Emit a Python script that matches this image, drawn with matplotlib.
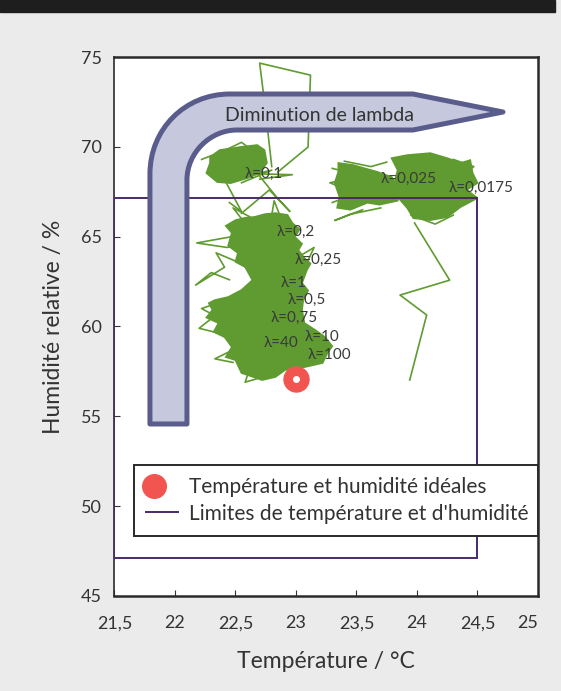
import matplotlib
matplotlib.use("Agg")
import matplotlib.pyplot as plt
from matplotlib.path import Path
from matplotlib.patches import PathPatch, Rectangle, Polygon
from matplotlib.transforms import Affine2D
from matplotlib.lines import Line2D
from matplotlib.legend_handler import HandlerTuple

plt.rcParams['font.family'] = ['Lato', 'DejaVu Sans']

# ---------------- data ----------------
x_ticks = [21.5, 22, 22.5, 23, 23.5, 24, 24.5, 25]
x_tick_labels = ['21,5', '22', '22,5', '23', '23,5', '24', '24,5', '25']
y_ticks = [45, 50, 55, 60, 65, 70, 75]
y_tick_labels = ['45', '50', '55', '60', '65', '70', '75']

ideal_temp = 23.0
ideal_hum = 57.1

limit_temp = [21.5, 24.5]
limit_hum = [47.1, 67.15]

# dense clouds of the trajectories (outline of the green scribble)
cloud_main = [(22.50, 65.92), (22.58, 66.05), (22.66, 66.10), (22.74, 66.25), (22.83, 66.31),
              (22.93, 66.21), (22.97, 65.76), (23.03, 65.40), (22.99, 64.99), (23.05, 64.60),
              (23.02, 64.25), (23.07, 63.81), (23.12, 63.50), (23.09, 63.14), (23.05, 62.42),
              (23.10, 62.00), (23.06, 61.47), (23.05, 60.92), (23.07, 60.19), (23.16, 59.80),
              (23.24, 59.41), (23.30, 58.90), (23.26, 58.52), (23.22, 57.97), (23.07, 57.74),
              (22.91, 57.58), (22.83, 57.19), (22.72, 57.02), (22.60, 57.30), (22.55, 57.41),
              (22.50, 58.13), (22.42, 58.30), (22.47, 58.86), (22.41, 59.41), (22.32, 59.70),
              (22.36, 60.19), (22.26, 60.50), (22.31, 60.92), (22.28, 61.30), (22.33, 61.47),
              (22.44, 61.64), (22.55, 62.03), (22.64, 62.58), (22.58, 63.31), (22.50, 63.60),
              (22.52, 64.09), (22.44, 64.50), (22.47, 65.21), (22.42, 65.60)]
cloud_01 = [(22.29, 69.43), (22.37, 69.82), (22.54, 69.99), (22.68, 70.10), (22.74, 69.82),
            (22.76, 69.10), (22.70, 68.54), (22.60, 68.26), (22.46, 67.98), (22.35, 68.04),
            (22.26, 68.54), (22.29, 69.10)]
cloud_0025 = [(23.35, 69.10), (23.47, 68.99), (23.67, 68.61), (23.79, 68.32), (23.86, 67.60),
              (23.84, 67.00), (23.69, 66.78), (23.59, 66.89), (23.45, 66.50), (23.34, 66.61),
              (23.36, 67.21), (23.32, 67.99), (23.35, 68.61)]
cloud_00175 = [(23.79, 69.37), (23.92, 69.54), (24.11, 69.65), (24.25, 69.37), (24.36, 69.10),
               (24.44, 69.26), (24.46, 68.54), (24.50, 67.99), (24.41, 67.60), (24.50, 67.15),
               (24.36, 66.65), (24.25, 66.09), (24.11, 65.92), (23.97, 66.03), (23.92, 66.59),
               (23.84, 67.21), (23.82, 68.15), (23.84, 68.71)]

# sparse excursions of the trajectories
excursions = [
    [(22.80, 68.90), (22.74, 72.50), (22.70, 74.66), (23.12, 73.99), (23.10, 69.99), (22.85, 68.60)],
    [(22.60, 69.20), (22.84, 67.20), (22.95, 66.40), (22.78, 67.60), (22.55, 66.30)],
    [(22.40, 68.30), (22.55, 66.40), (22.45, 66.90)],
    [(22.47, 65.00), (22.18, 64.65), (22.43, 64.40), (22.60, 64.60)],
    [(22.55, 63.50), (22.34, 64.10), (22.41, 63.30), (22.17, 62.30), (22.30, 63.00), (22.45, 62.60)],
    [(23.98, 65.76), (24.27, 62.58), (23.86, 61.75), (24.08, 60.64), (23.94, 57.02)],
    [(23.55, 66.50), (23.32, 65.90), (23.45, 66.25), (23.70, 66.60)],
    [(22.22, 69.30), (22.45, 69.90), (22.30, 68.60), (22.62, 69.60), (22.40, 68.10),
     (22.80, 68.70), (22.55, 68.00)],
    [(22.65, 68.50), (22.97, 68.45), (22.70, 68.20)],
    [(22.35, 69.60), (22.55, 70.25), (22.62, 69.90)],
    [(23.30, 68.80), (23.55, 68.40), (23.28, 68.00), (23.50, 67.40), (23.30, 66.90)],
    [(23.40, 69.20), (23.62, 68.90), (23.75, 69.15)],
    [(24.30, 69.30), (24.47, 68.90), (24.35, 68.30)],
    [(23.95, 66.20), (24.15, 65.70), (24.30, 66.20)],
    [(22.35, 61.30), (22.22, 61.00), (22.33, 60.60), (22.20, 59.90), (22.38, 59.60)],
    [(22.45, 58.60), (22.33, 58.20), (22.48, 58.00)],
    [(22.60, 57.30), (22.58, 56.90), (22.68, 57.10)],
    [(22.55, 66.00), (22.48, 66.60), (22.62, 66.10)],
    [(22.80, 66.20), (22.82, 67.00), (22.86, 66.30)],
    [(23.05, 64.00), (23.15, 64.40), (23.08, 63.40)],
]

lambda_labels = ['λ=0,1', 'λ=0,025', 'λ=0,0175', 'λ=0,2', 'λ=0,25', 'λ=1', 'λ=0,5',
                 'λ=0,75', 'λ=40', 'λ=10', 'λ=100']
lambda_x = [22.58, 23.70, 24.26, 22.84, 22.99, 22.87, 22.93, 22.79, 22.73, 23.07, 23.10]
lambda_y = [68.50, 68.20, 67.70, 65.26, 63.70, 62.40, 61.50, 60.50, 59.10, 59.40, 58.40]

# ---------------- figure ----------------
GREEN = '#5f9b30'
fig = plt.figure(figsize=(5.61, 6.91), dpi=100, facecolor='#ebebeb')
fig.patches.append(Rectangle((0, 0.983), 0.99, 0.017, transform=fig.transFigure,
                             color='#1e1e1e', zorder=0))
ax = fig.add_axes([0.204, 0.1375, 0.755, 0.78])
ax.set_facecolor('white')
ax.set_xlim(21.5, 25)
ax.set_ylim(45, 75)

for cloud in (cloud_main, cloud_01, cloud_0025, cloud_00175):
    ax.add_patch(Polygon(cloud, closed=True, facecolor=GREEN, edgecolor=GREEN,
                         lw=1.2, joinstyle='miter', zorder=2))
for seg in excursions:
    xs, ys = zip(*seg)
    ax.plot(xs, ys, color=GREEN, lw=1.2, zorder=2)

ax.add_patch(Rectangle((limit_temp[0], limit_hum[0]), limit_temp[1] - limit_temp[0],
                       limit_hum[1] - limit_hum[0], fill=False, edgecolor='#4a2a6a',
                       lw=1.4, zorder=3))

# bent arrow "Diminution de lambda" (drawn in page pixel units, mapped to axes)
px2ax = Affine2D().scale(1 / 423.5, -1 / 539).translate(-114.5 / 423.5, 596 / 539) + ax.transAxes
verts = [(150, 424), (150, 174), (150, 129), (185, 94), (230, 94), (413, 94), (503, 112),
         (413, 130), (237, 130), (210, 130), (187, 153), (187, 180), (187, 424), (150, 424)]
codes = [Path.MOVETO, Path.LINETO, Path.CURVE4, Path.CURVE4, Path.CURVE4, Path.LINETO,
         Path.LINETO, Path.LINETO, Path.LINETO, Path.CURVE4, Path.CURVE4, Path.CURVE4,
         Path.LINETO, Path.CLOSEPOLY]
ax.add_patch(PathPatch(Path(verts, codes), transform=px2ax, facecolor='#c6c9dd',
                       edgecolor='#5a5c8c', lw=3.6, joinstyle='round', zorder=4))
ax.text(320, 115, 'Diminution de lambda', transform=px2ax, ha='center', va='center',
        fontsize=14, color='#333333', zorder=5)

for lab, lx, ly in zip(lambda_labels, lambda_x, lambda_y):
    ax.text(lx, ly, lab, ha='left', va='center', fontsize=11, color='#3a3a3a', zorder=6)

ax.plot([ideal_temp], [ideal_hum], 'o', ms=18, color='#f2554f', zorder=7)
ax.plot([ideal_temp], [ideal_hum], 'o', ms=4, color='white', zorder=8)

ax.set_xticks(x_ticks)
ax.set_xticklabels(x_tick_labels)
ax.set_yticks(y_ticks)
ax.set_yticklabels(y_tick_labels)
ax.get_xticklabels()[-1].set_ha('right')
ax.tick_params(direction='in', length=4, width=0.8, labelsize=13, colors='#333333', pad=9)
ax.tick_params(axis='x', pad=14)
for s in ax.spines.values():
    s.set_color('#2a2a2a')
    s.set_linewidth(1.8)
ax.spines['left'].set_linewidth(1.2)

ax.set_xlabel('Température / °C', fontsize=16.5, color='#333333', labelpad=14)
ax.set_ylabel('Humidité relative / %', fontsize=16.5, color='#333333', labelpad=12)

h_ideal = (Line2D([], [], marker='o', ls='', ms=17, color='#f2554f'),
           Line2D([], [], marker='o', ls='', ms=4, color='white'))
h_lim = Line2D([], [], color='#4a2a6a', lw=1.4)
leg = ax.legend([h_ideal, h_lim], ['Température et humidité idéales',
                                    "Limites de température et d'humidité"],
                handler_map={tuple: HandlerTuple(ndivide=None, pad=0)},
                loc='lower left', bbox_to_anchor=(0.046, 0.111, 0.954, 0.128), mode='expand',
                borderaxespad=0, fontsize=15, handlelength=1.5, handletextpad=0.55,
                labelspacing=0.3, frameon=True, fancybox=False, framealpha=1,
                edgecolor='#2a2a2a', labelcolor='#333333', borderpad=0.6)
leg.get_frame().set_linewidth(1.4)
leg.set_zorder(10)

fig.savefig('out.png', dpi=100, facecolor=fig.get_facecolor())
